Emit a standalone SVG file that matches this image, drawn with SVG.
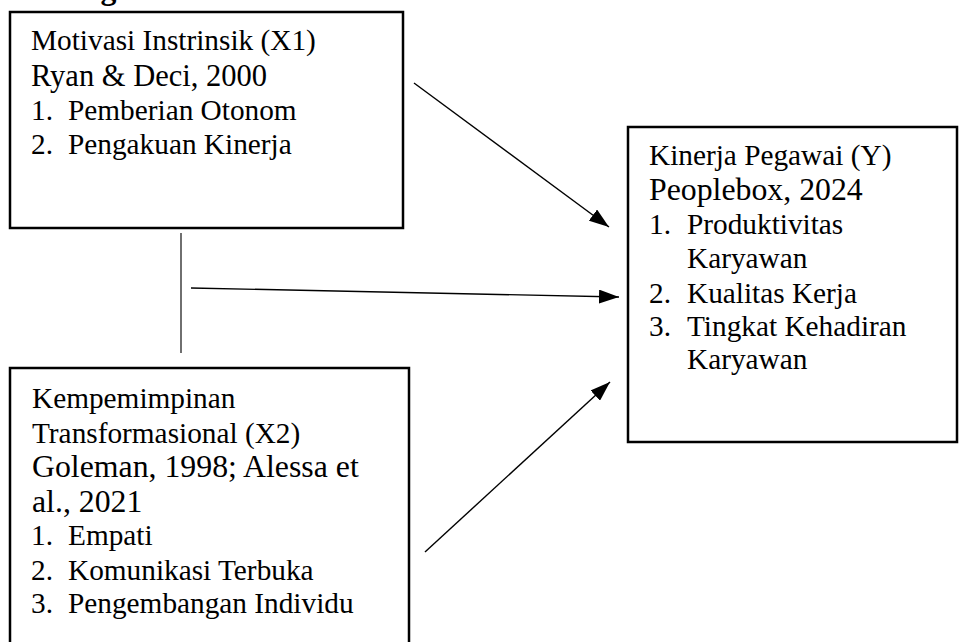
<svg xmlns="http://www.w3.org/2000/svg" width="963" height="642" viewBox="0 0 963 642">
<style>
.box{fill:#fff;stroke:#000;stroke-width:2.5}
.t{font-family:"Liberation Serif","Times New Roman",serif;font-size:29.3px;fill:#000}
.c{font-family:"Liberation Serif","Times New Roman",serif;font-size:31.8px;fill:#000}
.h{font-family:"Liberation Serif","Times New Roman",serif;font-size:31.8px;font-weight:bold;fill:#000}
.ln{stroke:#000;stroke-width:1.4;fill:none}
</style>
<defs>
<marker id="ah" viewBox="0 0 20 14" refX="20" refY="7" markerWidth="20" markerHeight="14" markerUnits="userSpaceOnUse" orient="auto">
<path d="M0,0 L20,7 L0,14 Z" fill="#000"/>
</marker>
</defs>
<rect width="963" height="642" fill="#fff"/>
<text class="h" x="14" y="-1.5">Kerangka Pemikiran</text>
<g id="x1">
<rect class="box" x="10" y="12" width="393" height="216"/>
<text class="t" x="31" y="50">Motivasi Instrinsik (X1)</text>
<text class="t" x="31" y="86" style="font-size:30.5px">Ryan &amp; Deci, 2000</text>
<text class="t" x="31" y="120">1.</text><text class="t" x="68" y="120">Pemberian Otonom</text>
<text class="t" x="31" y="154">2.</text><text class="t" x="68" y="154">Pengakuan Kinerja</text>
</g>
<g id="x2">
<rect class="box" x="10" y="368" width="399" height="290"/>
<text class="t" x="32" y="408">Kempemimpinan</text>
<text class="t" x="32" y="443">Transformasional (X2)</text>
<text class="c" x="32" y="477">Goleman, 1998; Alessa et</text>
<text class="c" x="32" y="512">al., 2021</text>
<text class="t" x="31" y="545">1.</text><text class="t" x="68" y="545">Empati</text>
<text class="t" x="31" y="580">2.</text><text class="t" x="68" y="580">Komunikasi Terbuka</text>
<text class="t" x="31" y="613">3.</text><text class="t" x="68" y="613">Pengembangan Individu</text>
</g>
<g id="y">
<rect class="box" x="628" y="127" width="329" height="315"/>
<text class="t" x="649" y="165">Kinerja Pegawai (Y)</text>
<text class="c" x="649" y="200">Peoplebox, 2024</text>
<text class="t" x="649" y="234">1.</text><text class="t" x="687" y="234">Produktivitas</text>
<text class="t" x="687" y="268">Karyawan</text>
<text class="t" x="649" y="303">2.</text><text class="t" x="687" y="303">Kualitas Kerja</text>
<text class="t" x="649" y="336">3.</text><text class="t" x="687" y="336">Tingkat Kehadiran</text>
<text class="t" x="687" y="369">Karyawan</text>
</g>
<g id="connectors">
<line class="ln" x1="181" y1="233" x2="181" y2="353" style="stroke:#333"/>
<line class="ln" x1="414" y1="83" x2="609" y2="227" marker-end="url(#ah)"/>
<line class="ln" x1="191" y1="288" x2="619" y2="297" marker-end="url(#ah)"/>
<line class="ln" x1="425" y1="552" x2="610" y2="382" marker-end="url(#ah)"/>
</g>
</svg>
